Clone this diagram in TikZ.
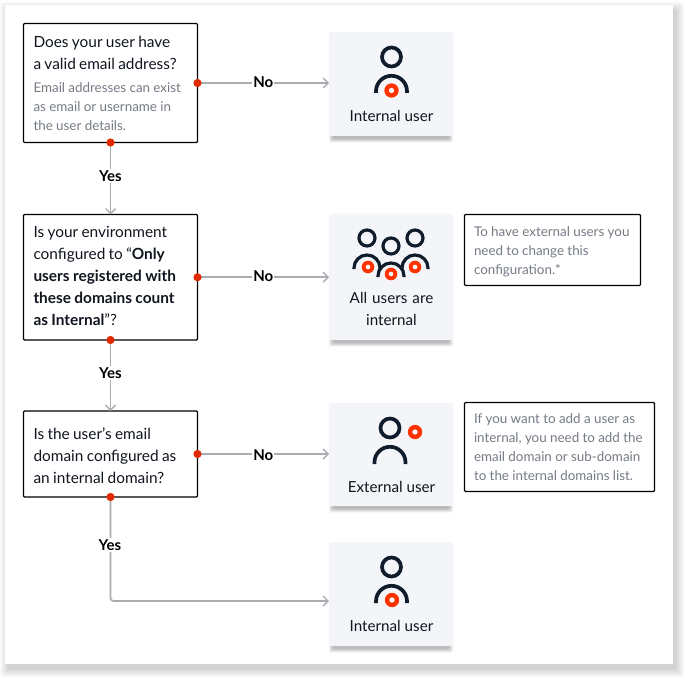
\documentclass[tikz,border=0pt]{standalone}
\usepackage{fontspec}
\setmainfont{Lato}
\usetikzlibrary{arrows.meta,calc}
\definecolor{ink}{HTML}{10151F}
\definecolor{note}{HTML}{757B85}
\definecolor{wire}{HTML}{A9ACB1}
\definecolor{dotred}{HTML}{E22A00}
\definecolor{iconred}{HTML}{FF3300}
\definecolor{iconink}{HTML}{0F1C2B}
\definecolor{cardbg}{HTML}{F4F5F9}
\newcommand{\bigtxt}[1]{{\fontsize{15.4}{22}\selectfont #1\par}}
\newcommand{\smalltxt}[1]{{\fontsize{13.4}{19}\selectfont\color{note} #1\par}}
\newcommand{\notetxt}[1]{{\leftskip=9.5pt\fontsize{13.4}{19}\selectfont\color{note} #1\par}}
\newcommand{\softshadow}[7]{% x1 y1 x2 y2 steps spread opacity
  \foreach \s in {0,1,...,#5}{
    \fill[black,opacity=#7,rounded corners=2]
      (#1-\s*#6,#2-\s*#6) rectangle (#3+\s*#6,#4+\s*#6);
  }}
\newcommand{\reddot}[3]{% x y scale
  \fill[iconred] (#1,#2) circle (#3);
  \fill[white] (#1,#2) circle (#3*0.36);
}
\tikzset{
  x=1pt,y=1pt,
  qbox/.style={draw=black,line width=1.1pt,outer sep=0pt,fill=white,rounded corners=1pt,
    minimum width=174pt,text width=154pt,inner xsep=10pt,inner ysep=0pt,
    align=left,text=ink,anchor=north west},
  notebox/.style={draw=black,line width=1.1pt,outer sep=0pt,fill=white,rounded corners=1pt,
    inner xsep=0pt,inner ysep=0pt,align=left,anchor=north west},
  card/.style={fill=cardbg,rounded corners=2pt,minimum width=124pt,anchor=north west,inner sep=0pt,outer sep=0pt},
  cardtext/.style={text=ink,align=center,font=\fontsize{15.2}{22}\selectfont,inner sep=0pt},
  wireline/.style={draw=wire,line width=1.7pt},
  arrowline/.style={wireline,-{Straight Barb[length=5pt,width=10pt,line width=1.3pt]}},
  edgelabel/.style={fill=white,inner xsep=1pt,inner ysep=2pt,text=black,font=\fontsize{15}{18}\selectfont\bfseries},
  portdot/.style={fill=dotred},
  stroke/.style={draw=iconink,line width=3.7pt},
  pics/person/.style={code={
    \draw[stroke] (0,0) circle (9.5);
    \draw[stroke] (-15.5,-36) -- (-15.5,-34.3) arc (180:0:15.5) -- (15.5,-36);
  }},
  pics/smallperson/.style={code={
    \draw[stroke,line width=3.2pt] (0,0) circle (8);
    \draw[stroke,line width=3.2pt] (-13,-31) -- (-13,-30) arc (180:0:13) -- (13,-31);
  }},
}
\begin{document}
\begin{tikzpicture}
\useasboundingbox (0,0) rectangle (688,-679);
\fill[white] (0,0) rectangle (688,-679);
% outer panel shadow
\begin{scope}[shift={(3,-5)}]
\softshadow{5}{-664}{673}{-5}{8}{1}{0.02}
\end{scope}
\fill[white] (5,-5) rectangle (673,-664);

% card shadows
\foreach \ya/\yb in {32/136,214/340,403/506,542/646}{
  \begin{scope}[shift={(0,-2.5)}]
  \softshadow{333}{-\yb}{449}{-\ya-5}{5}{0.8}{0.05}
  \end{scope}
}

% question boxes
\node[qbox,minimum height=119pt] (q1) at (23.5,-23.5)
  {\bigtxt{Does your user have\\a valid email address?}\vspace{4pt}\smalltxt{Email addresses can exist\\as email or username in\\the user details.}};
\node[qbox,minimum height=125.5pt] (q2) at (23.5,-214.5)
  {\bigtxt{Is your environment\\configured to “\textbf{Only}\\\textbf{users registered with}\\\textbf{these domains count}\\\textbf{as Internal}”?}\vspace{2pt}};
\node[qbox,minimum height=86pt] (q3) at (23.5,-411)
  {\par\vspace*{-6pt}\bigtxt{Is the user's email\\domain configured as\\an internal domain?}};

% result cards
\node[card,minimum height=104pt] (c1) at (329,-32) {};
\node[card,minimum height=126pt] (c2) at (329,-214) {};
\node[card,minimum height=103pt] (c3) at (329,-403) {};
\node[card,minimum height=104pt] (c4) at (329,-542) {};

\node[cardtext] (t1) at (391.5,-116) {Internal user};
\node[cardtext,text width=120pt] (t2) at (391.5,-309) {All users are\\internal};
\node[cardtext] (t3) at (391.5,-487) {External user};
\node[cardtext] (t4) at (391.5,-626) {Internal user};

% notes
\node[notebox,minimum width=176pt,text width=176pt,minimum height=71pt] (n1) at (464.5,-214.5)
  {\par\vspace*{-6pt}\notetxt{To have external users you\\need to change this\\configuration.*}};
\node[notebox,minimum width=190pt,text width=190pt,minimum height=89pt] (n2) at (464.5,-402.5)
  {\notetxt{If you want to add a user as\\internal, you need to add the\\email domain or sub-domain\\to the internal domains list.}};

% connectors
\coordinate (c4in) at ($(c4.west)+(0,-7)$);
\draw[arrowline] (q1.east) -- node[edgelabel,yshift=1pt] (l1) {No} (c1.west |- q1.east);
\draw[arrowline] (q2.east) -- node[edgelabel,yshift=1.5pt] (l2) {No} (c2.west |- q2.east);
\draw[arrowline] (q3.east) -- node[edgelabel,yshift=-1pt] (l3) {No} (c3.west |- q3.east);
\draw[arrowline] (q1.south) -- node[edgelabel,yshift=2.5pt] (l4) {Yes} (q2.north);
\draw[arrowline] (q2.south) -- node[edgelabel,yshift=2.5pt] (l5) {Yes} (q3.north);
\draw[arrowline,rounded corners=3pt] (q3.south) |- (c4in);
\node[edgelabel] (l6) at (110,-545) {Yes};

% port dots
\foreach \p in {q1.east,q1.south,q2.east,q2.south,q3.east,q3.south}{
  \fill[portdot] (\p) circle (4.1);
}

% icons
\pic at (391.5,-57) {person};
\reddot{391.5}{-90.5}{7.2}
\pic at (367,-238) {smallperson};
\pic at (391,-246) {smallperson};
\pic at (415,-238) {smallperson};
\reddot{368}{-267}{6.3}
\reddot{391}{-274}{6.3}
\reddot{415}{-267}{6.3}
\pic at (390,-428) {person};
\reddot{415}{-432}{7.2}
\pic at (391.5,-567) {person};
\reddot{392}{-600}{7.2}
\end{tikzpicture}
\end{document}
